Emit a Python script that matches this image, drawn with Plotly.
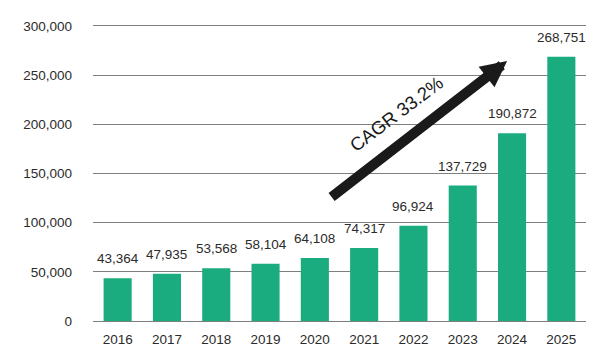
import plotly.graph_objects as go

years = ["2016", "2017", "2018", "2019", "2020", "2021", "2022", "2023", "2024", "2025"]
values = [43364, 47935, 53568, 58104, 64108, 74317, 96924, 137729, 190872, 268751]
y_ticks = [0, 50000, 100000, 150000, 200000, 250000, 300000]
y_tick_labels = ["0", "50,000", "100,000", "150,000", "200,000", "250,000", "300,000"]
cagr_label = "CAGR 33.2%"

bar_color = "#1aac7e"
text_color = "#2b2b2b"
font_family = "Liberation Sans, Arial, sans-serif"
fs = 13.5

fig = go.Figure()
fig.add_trace(go.Bar(
    x=years, y=values, marker=dict(color=bar_color, line=dict(width=0)),
    hoverinfo="skip",
))

annotations = []
for i, v in enumerate(values):
    annotations.append(dict(
        x=i, y=v, xref="x", yref="y", text=f"{v:,}", showarrow=False,
        xanchor="center", yanchor="bottom", yshift=10,
        font=dict(size=fs, color=text_color, family=font_family),
    ))

# growth arrow
annotations.append(dict(
    x=0.84, y=0.875, xref="paper", yref="paper", ax=-177, ay=137,
    axref="pixel", ayref="pixel", text="", showarrow=True,
    arrowhead=2, arrowsize=0.52, arrowwidth=10, arrowcolor="#1a1a1a",
))
annotations.append(dict(
    x=0.6166, y=0.697, xref="paper", yref="paper", text=cagr_label, showarrow=False,
    xanchor="center", yanchor="middle",
    textangle=-37, font=dict(size=18.5, color="#1a1a1a", family=font_family),
))

fig.update_layout(
    width=610, height=361,
    margin=dict(l=93, r=24, t=24, b=40),
    paper_bgcolor="white", plot_bgcolor="white",
    bargap=0.43, showlegend=False,
    font=dict(family=font_family, size=fs, color=text_color),
    annotations=annotations,
    xaxis=dict(type="category", range=[-0.5, 9.5], showgrid=False, showline=False, ticks="",
               ticklabelstandoff=8, tickfont=dict(size=fs, color=text_color)),
    yaxis=dict(range=[0, 302000], tickvals=y_ticks, ticktext=y_tick_labels,
               showgrid=True, gridcolor="#7f7f7f", gridwidth=1.3,
               zeroline=True, zerolinecolor="#7f7f7f", zerolinewidth=1.3,
               showline=False, ticks="", ticklabelstandoff=20,
               tickfont=dict(size=fs, color=text_color)),
)

fig.write_html("out.html", config={"displayModeBar": False},
               post_script="document.body.style.margin='0';")
